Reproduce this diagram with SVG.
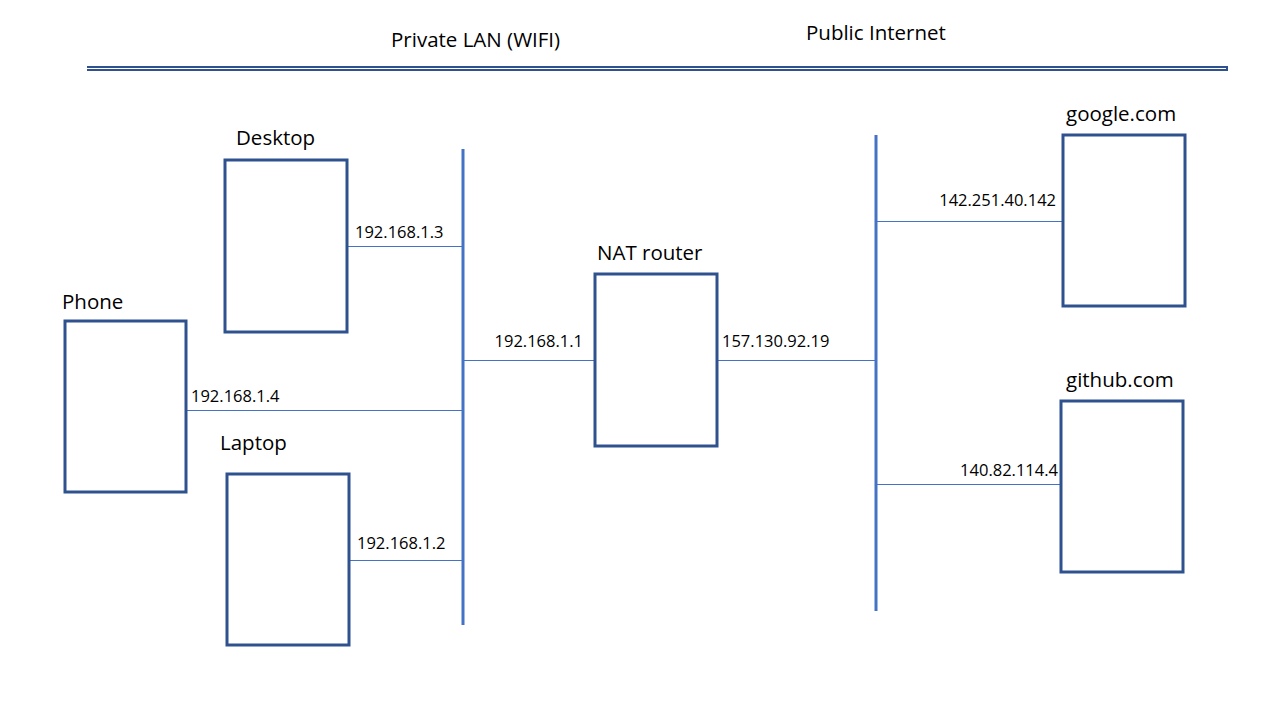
<svg xmlns="http://www.w3.org/2000/svg" width="1280" height="720" viewBox="0 0 1280 720">
<style>
.box{fill:none;stroke:#2F528F;stroke-width:3}
.bus{stroke:#4472C4;stroke-width:3}
.link{stroke:#4472C4;stroke-width:1}
.t{font-family:"Open Sans","Liberation Sans",sans-serif;fill:#000}
.lbl{font-size:20.5px}
.ip{font-size:16.5px}
</style>
<rect width="1280" height="720" fill="#fff"/>
<g id="header">
<line x1="87" y1="68.5" x2="1228" y2="68.5" stroke="#2F528F" stroke-width="5"/>
<line x1="87" y1="68.5" x2="1226" y2="68.5" stroke="#fff" stroke-width="1"/>
<text class="t lbl" x="391" y="47">Private LAN (WIFI)</text>
<text class="t lbl" x="806" y="40">Public Internet</text>
</g>
<g id="connectors">
<line class="bus" x1="463" y1="149" x2="463" y2="625"/>
<line class="bus" x1="876" y1="135" x2="876" y2="611"/>
<line class="link" x1="347" y1="246.5" x2="463" y2="246.5"/>
<line class="link" x1="186" y1="410.5" x2="463" y2="410.5"/>
<line class="link" x1="349" y1="560.5" x2="463" y2="560.5"/>
<line class="link" x1="463" y1="360.5" x2="595" y2="360.5"/>
<line class="link" x1="717" y1="360.5" x2="876" y2="360.5"/>
<line class="link" x1="876" y1="221.5" x2="1063" y2="221.5"/>
<line class="link" x1="876" y1="484.5" x2="1061" y2="484.5"/>
<text class="t ip" x="355" y="238">192.168.1.3</text>
<text class="t ip" x="191" y="402">192.168.1.4</text>
<text class="t ip" x="357" y="549">192.168.1.2</text>
<text class="t ip" x="583" y="347" text-anchor="end">192.168.1.1</text>
<text class="t ip" x="722" y="347">157.130.92.19</text>
<text class="t ip" x="1056" y="206" text-anchor="end">142.251.40.142</text>
<text class="t ip" x="1058" y="476" text-anchor="end">140.82.114.4</text>
</g>
<g id="desktop">
<rect class="box" x="225" y="160" width="122" height="172"/>
<text class="t lbl" x="236" y="145">Desktop</text>
</g>
<g id="phone">
<rect class="box" x="65" y="321" width="121" height="171"/>
<text class="t lbl" x="62" y="309">Phone</text>
</g>
<g id="laptop">
<rect class="box" x="227" y="474" width="122" height="171"/>
<text class="t lbl" x="220" y="450">Laptop</text>
</g>
<g id="nat-router">
<rect class="box" x="595" y="274" width="122" height="172"/>
<text class="t lbl" x="597" y="260">NAT router</text>
</g>
<g id="google">
<rect class="box" x="1063" y="135" width="122" height="171"/>
<text class="t lbl" x="1066" y="121">google.com</text>
</g>
<g id="github">
<rect class="box" x="1061" y="401" width="122" height="171"/>
<text class="t lbl" x="1066" y="387">github.com</text>
</g>
</svg>
